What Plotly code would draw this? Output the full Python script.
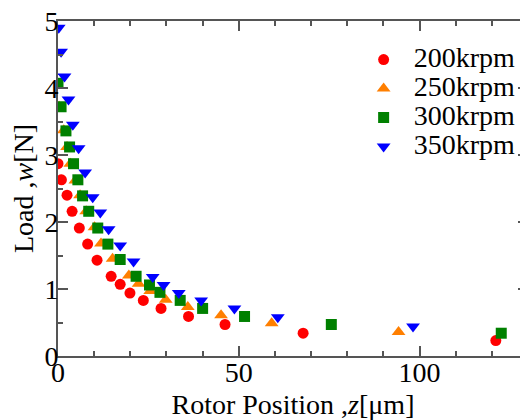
import plotly.graph_objects as go

# 200 krpm
z200 = [0.0, 0.95, 2.5, 3.9, 5.9, 8.2, 10.8, 14.7, 17.2, 19.9, 23.6, 28.5, 36.1, 46.2, 67.8, 121.1]
w200 = [2.87, 2.63, 2.40, 2.16, 1.91, 1.67, 1.43, 1.19, 1.07, 0.94, 0.83, 0.71, 0.59, 0.47, 0.34, 0.23]
# 250 krpm
z250 = [0.3, 1.6, 2.5, 3.4, 4.8, 6.1, 7.8, 10.1, 11.9, 15.1, 19.6, 22.3, 25.5, 29.8, 35.9, 45.1, 59.1, 94.2]
w250 = [3.72, 3.37, 3.12, 2.87, 2.62, 2.40, 2.16, 1.92, 1.68, 1.45, 1.20, 1.08, 0.97, 0.84, 0.73, 0.61, 0.49, 0.36]
# 300 krpm
z300 = [0.0, 0.85, 2.2, 3.2, 4.3, 5.5, 6.8, 8.5, 11.0, 13.8, 17.2, 21.6, 25.3, 28.2, 33.8, 40.0, 51.6, 75.6, 122.6]
w300 = [4.07, 3.72, 3.36, 3.12, 2.87, 2.63, 2.39, 2.16, 1.91, 1.67, 1.44, 1.19, 1.06, 0.95, 0.83, 0.71, 0.59, 0.47, 0.34]
# 350 krpm
z350 = [0.2, 0.85, 1.8, 2.9, 4.1, 5.7, 7.5, 9.6, 11.7, 14.0, 17.2, 20.9, 26.2, 29.2, 33.4, 39.6, 48.8, 60.8, 98.2]
w350 = [4.90, 4.54, 4.17, 3.83, 3.45, 3.10, 2.74, 2.37, 2.14, 1.89, 1.65, 1.41, 1.18, 1.06, 0.94, 0.83, 0.71, 0.58, 0.44]

names = ["200krpm", "250krpm", "300krpm", "350krpm"]
xtick_vals = [0, 50, 100]
ytick_vals = [0, 1, 2, 3, 4, 5]

FONT = "Liberation Serif, Times New Roman, serif"
AXC = "#555555"

series = [
    (z200, w200, "circle", "#ff0000", 11),
    (z250, w250, "triangle-up", "#ff7f00", 12),
    (z300, w300, "square", "#008000", 11),
    (z350, w350, "triangle-down", "#0000ff", 12),
]

fig = go.Figure()
for (zs, ws, sym, col, sz), nm in zip(series, names):
    fig.add_trace(go.Scatter(
        x=zs, y=ws, mode="markers", name='<span style="font-size:28px">' + nm + '</span>',
        marker=dict(symbol=sym, color=col, size=sz, line=dict(width=0)),
    ))

axis_common = dict(
    showline=True, linecolor=AXC, linewidth=2, mirror="ticks",
    ticks="inside", ticklen=10, tickwidth=1.5, tickcolor=AXC,
    showgrid=False, zeroline=False, automargin=False,
    ticklabeloverflow="allow",
    tickfont=dict(family=FONT, size=28, color="black"),
)

fig.update_xaxes(
    range=[0, 130], tickvals=xtick_vals,
    minor=dict(dtick=10, ticks="inside", ticklen=5, tickcolor=AXC, tickwidth=1.5, showgrid=False),
    title=dict(text="Rotor Position ,<i>z</i>[μm]", font=dict(family=FONT, size=28, color="black"), standoff=10),
    ticklabelstandoff=-10,
    **axis_common,
)
fig.update_yaxes(
    range=[0, 5], tickvals=ytick_vals,
    minor=dict(dtick=0.5, ticks="inside", ticklen=5, tickcolor=AXC, tickwidth=1.5, showgrid=False),
    title=dict(text="Load ,<i>w</i>[N]", font=dict(family=FONT, size=28, color="black"), standoff=4),
    ticklabelstandoff=-8,
    **axis_common,
)

fig.update_layout(
    width=520, height=412,
    margin=dict(l=50, r=0, t=13, b=64, autoexpand=False),
    plot_bgcolor="white", paper_bgcolor="white",
    font=dict(family=FONT, size=28, color="black"),
    showlegend=True,
    legend=dict(x=0.629, y=0.943, xanchor="left", yanchor="top",
                font=dict(family=FONT, size=20, color="black"),
                bgcolor="rgba(0,0,0,0)", borderwidth=0, tracegroupgap=0,
                itemwidth=50),
)

fig.write_html("out.html")
